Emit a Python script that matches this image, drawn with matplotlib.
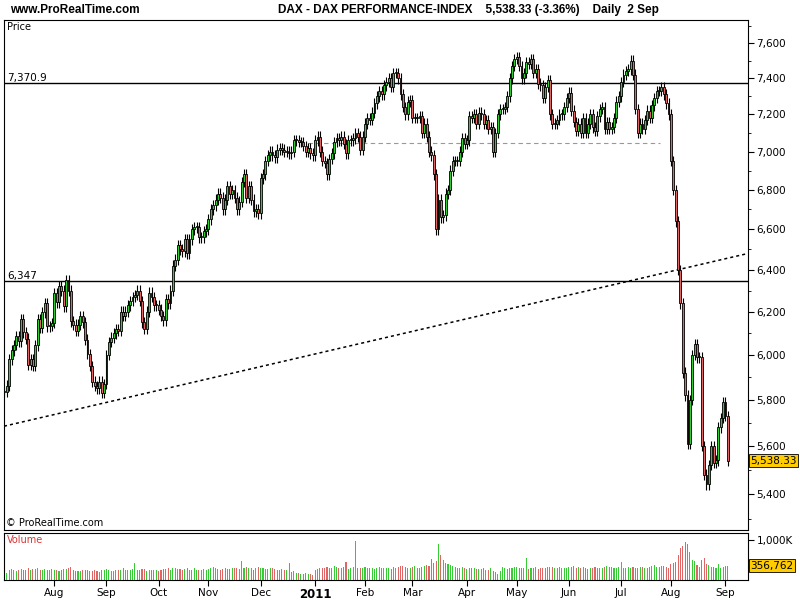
import matplotlib
matplotlib.use("Agg")
import matplotlib.pyplot as plt
import numpy as np
import pandas as pd
from matplotlib.ticker import FixedLocator, NullFormatter

closes = [
 5835, 5834,
 5863, 5980, 6021, 6046, 6086,
 6063, 6165, 6104, 6075, 5956,
 5982, 5950, 6044, 6166, 6125,
 6197, 6241, 6132, 6133, 6148,
 6288, 6244, 6320, 6300, 6225,
 6352, 6300, 6155, 6140, 6110,
 6140, 6180, 6150, 6070, 6005,
 5950, 5880, 5860, 5850, 5880,
 5830, 5870, 6000, 6060, 6080,
 6100, 6120, 6110, 6200, 6180,
 6200, 6230, 6250, 6270, 6280,
 6300, 6250, 6150, 6120, 6200,
 6290, 6270, 6230, 6230, 6210,
 6180, 6160, 6260, 6240, 6300,
 6420, 6450, 6520, 6500, 6490,
 6550, 6480, 6550, 6600, 6610,
 6610, 6560, 6560, 6590, 6600,
 6650, 6700, 6720, 6750, 6780,
 6760, 6700, 6750, 6820, 6780,
 6800, 6760, 6700, 6740, 6840,
 6880, 6760, 6820, 6750, 6690,
 6700, 6680, 6860, 6880, 6950,
 6980, 7000, 6980, 6970, 7010,
 7020, 7010, 7000, 7000, 6990,
 7000, 7060, 7060, 7050, 7050,
 7030, 7000, 7020, 6990, 6980,
 7060, 7080, 7000, 6950, 6940,
 6880, 6960, 6990, 7050, 7070,
 7060, 7080, 7040, 6990, 7060,
 7060, 7070, 7100, 7080, 7010,
 7080, 7150, 7180, 7170, 7210,
 7260, 7300, 7330, 7310, 7360,
 7380, 7400, 7350, 7430, 7430,
 7400, 7310, 7240, 7200, 7270,
 7280, 7180, 7180, 7180, 7190,
 7100, 7150, 7080, 7000, 6980,
 6880, 6600, 6750, 6660, 6670,
 6780, 6800, 6900, 6950, 6950,
 6950, 7000, 7070, 7040, 7060,
 7190, 7180, 7200, 7150, 7210,
 7200, 7150, 7170, 7120, 7130,
 7000, 7100, 7200, 7230, 7230,
 7240, 7300, 7400, 7470, 7510,
 7520, 7470, 7400, 7430, 7490,
 7480, 7510, 7430, 7450, 7370,
 7360, 7290, 7350, 7390, 7200,
 7150, 7150, 7170, 7200, 7200,
 7240, 7290, 7320, 7220, 7160,
 7110, 7150, 7100, 7180, 7100,
 7150, 7200, 7130, 7110, 7190,
 7230, 7240, 7120, 7160, 7120,
 7130, 7180, 7270, 7300, 7380,
 7420, 7440, 7450, 7500, 7420,
 7230, 7100, 7150, 7120, 7170,
 7220, 7180, 7250, 7290, 7330,
 7330, 7350, 7310, 7260, 7200,
 6950, 6800, 6640, 6400, 6240,
 5920, 5820, 5610, 5800, 6000,
 6050, 5990, 5990, 5600, 5480,
 5440, 5520, 5600, 5530, 5540,
 5680, 5720, 5790, 5730, 5538.33,
]

volumes_k = [
 300, 220,
 180, 260, 280, 250, 230,
 240, 280, 260, 250, 300,
 260, 280, 270, 300, 250,
 240, 270, 250, 260, 280,
 260, 240, 230, 250, 270,
 280, 300, 320, 250, 230,
 220, 230, 240, 250, 260,
 220, 230, 240, 230, 200,
 250, 260, 280, 240, 220,
 230, 250, 240, 260, 300,
 240, 250, 260, 270, 420,
 260, 250, 280, 270, 230,
 240, 260, 250, 240, 230,
 250, 270, 280, 300, 260,
 300, 290, 280, 270, 260,
 270, 300, 260, 250, 300,
 240, 260, 250, 270, 240,
 280, 300, 320, 290, 270,
 260, 280, 300, 270, 280,
 310, 300, 290, 280, 480,
 290, 320, 300, 310, 250,
 300, 330, 310, 290, 270,
 280, 300, 290, 270, 260,
 260, 280, 250, 240, 420,
 200, 220, 180, 170, 160,
 150, 170, 160, 140, 130,
 260, 280, 300, 290, 310,
 320, 300, 290, 350, 330,
 290, 300, 320, 450, 280,
 300, 320, 990, 310, 290,
 300, 320, 310, 290, 300,
 280, 310, 320, 300, 290,
 300, 310, 280, 330, 300,
 320, 340, 360, 330, 310,
 300, 320, 340, 310, 300,
 330, 350, 380, 360, 520,
 420, 480, 900, 620, 500,
 420, 400, 380, 360, 330,
 310, 300, 320, 290, 280,
 290, 300, 310, 280, 270,
 280, 290, 260, 250, 300,
 230, 200, 160, 220, 320,
 300, 270, 290, 310, 330,
 320, 300, 290, 310, 540,
 280, 300, 290, 320, 280,
 300, 290, 310, 320, 330,
 330, 310, 300, 320, 290,
 310, 300, 320, 330, 340,
 300, 320, 310, 330, 300,
 280, 290, 310, 320, 300,
 300, 310, 320, 340, 330,
 320, 300, 310, 330, 450,
 310, 300, 320, 300, 330,
 300, 310, 330, 320, 300,
 310, 320, 350, 380, 330,
 330, 340, 350, 320, 310,
 400, 420, 450, 620, 800,
 850, 960, 900, 700, 500,
 470, 380, 320, 500, 550,
 400, 380, 330, 320, 300,
 390, 300, 330, 340, 357,
]

level_lines = [7370.9, 6347]
dashed_level = 7045
trend_start, trend_end = 5685, 6480
last_price = 5538.33
last_volume = 356762

n = len(closes)
dates = pd.bdate_range("2010-07-01", periods=n)
idx = np.arange(n)
c = np.array(closes, float)
o = np.concatenate([[closes[0] - 20], c[:-1]])
hi = np.maximum(o, c) * 1.004
lo = np.minimum(o, c) * 0.996
vol = np.array(volumes_k) * 1000.0

GREEN = "#33cc33"
RED = "#e06666"
cols = [GREEN if cc >= oo else RED for oo, cc in zip(o, c)]

X0, X1 = 0.8, 314.5

fig = plt.figure(figsize=(8, 6), dpi=100)
ax = fig.add_axes([4/800, 1-530/600, 744/800, 510/600])
axv = fig.add_axes([4/800, 1-580/600, 744/800, 47/600], sharex=ax)

ax.set_yscale("log")
ax.vlines(idx, lo, hi, color="black", lw=0.8, zorder=2)
body_lo = np.minimum(o, c)
body_h = np.maximum(np.abs(c - o), c * 0.0008)
ax.bar(idx, body_h, bottom=body_lo, width=0.8, color=cols, edgecolor="black", lw=0.6, zorder=3)

for lv in level_lines:
    ax.axhline(lv, color="black", lw=1.0, zorder=1)
ax.text(0.004, 7370.9, "7,370.9", transform=ax.get_yaxis_transform(), fontsize=7.5, va="bottom", ha="left")
ax.text(0.004, 6347, "6,347", transform=ax.get_yaxis_transform(), fontsize=7.5, va="bottom", ha="left")
ax.axhline(dashed_level, xmin=(308-4)/744, xmax=(660-4)/744, color="#999999", lw=0.8, ls=(0, (4, 3)), zorder=1)

tx = np.linspace(X0, X1, 200)
ty = np.exp(np.log(trend_start) + (np.log(trend_end) - np.log(trend_start)) * (tx - X0) / (X1 - X0))
ax.plot(tx, ty, color="black", lw=1.1, ls=(0, (2, 2)), zorder=1)

ax.set_xlim(X0, X1)
ax.set_ylim(5255, 7734)
yt = list(range(5400, 7601, 200))
ax.yaxis.set_major_locator(FixedLocator(yt))
ax.yaxis.set_minor_locator(FixedLocator(list(range(5300, 7701, 100))))
ax.yaxis.set_minor_formatter(NullFormatter())
ax.set_yticklabels([f"{v:,}" for v in yt], fontsize=7.5)
for lab, v in zip(ax.get_yticklabels(), yt):
    if v in (6000, 7000):
        lab.set_fontweight("bold")
ax.yaxis.tick_right()
ax.tick_params(axis="y", which="major", length=4, pad=2)
ax.tick_params(axis="y", which="minor", length=2)
ax.tick_params(axis="x", bottom=False, labelbottom=False)
ax.text(0.004, 0.997, "Price", transform=ax.transAxes, fontsize=7, va="top")
ax.text(0.003, 0.004, "© ProRealTime.com", transform=ax.transAxes, fontsize=7, va="bottom")
ax.text(1.003, last_price, f"{last_price:,.2f}", transform=ax.get_yaxis_transform(), fontsize=7.5,
        va="center", ha="left", bbox=dict(boxstyle="square,pad=0.15", fc="#ffcc00", ec="black", lw=0.6), zorder=10)

axv.bar(idx, vol, width=0.45, color=cols, lw=0)
axv.set_ylim(0, 1.18e6)
axv.yaxis.tick_right()
axv.set_yticks([500000, 1000000])
axv.set_yticklabels(["", "1,000K"], fontsize=7.5)
axv.tick_params(axis="y", length=4, pad=2)
axv.text(0.004, 0.96, "Volume", transform=axv.transAxes, fontsize=7, va="top", color="#dd3333")
axv.text(1.003, last_volume, "356,762", transform=axv.get_yaxis_transform(), fontsize=7.5,
         va="center", ha="left", bbox=dict(boxstyle="square,pad=0.15", fc="#ffcc00", ec="black", lw=0.6), zorder=10)

months = pd.Series(idx, index=dates)
firsts = months.groupby([dates.year, dates.month]).first()
tick_pos, tick_lab = [], []
for (yr, mo), i in firsts.items():
    if i == 0:
        continue
    tick_pos.append(i)
    tick_lab.append("2011" if mo == 1 else pd.Timestamp(yr, mo, 1).strftime("%b"))
axv.set_xticks(tick_pos)
axv.set_xticklabels(tick_lab, fontsize=7.5)
for lab in axv.get_xticklabels():
    if lab.get_text() == "2011":
        lab.set_fontweight("bold")
        lab.set_fontsize(8.5)
axv.tick_params(axis="x", length=4, pad=2)

for a in (ax, axv):
    for s in a.spines.values():
        s.set_linewidth(0.8)

fig.text(10/800, 1-10/600, "www.ProRealTime.com", fontsize=8.5, fontweight="bold", va="center", family="Liberation Sans")
fig.text(278/800, 1-10/600, "DAX - DAX PERFORMANCE-INDEX    5,538.33 (-3.36%)    Daily  2 Sep",
         fontsize=8.5, fontweight="bold", va="center", family="Liberation Sans")

fig.savefig("out.png", dpi=100)
